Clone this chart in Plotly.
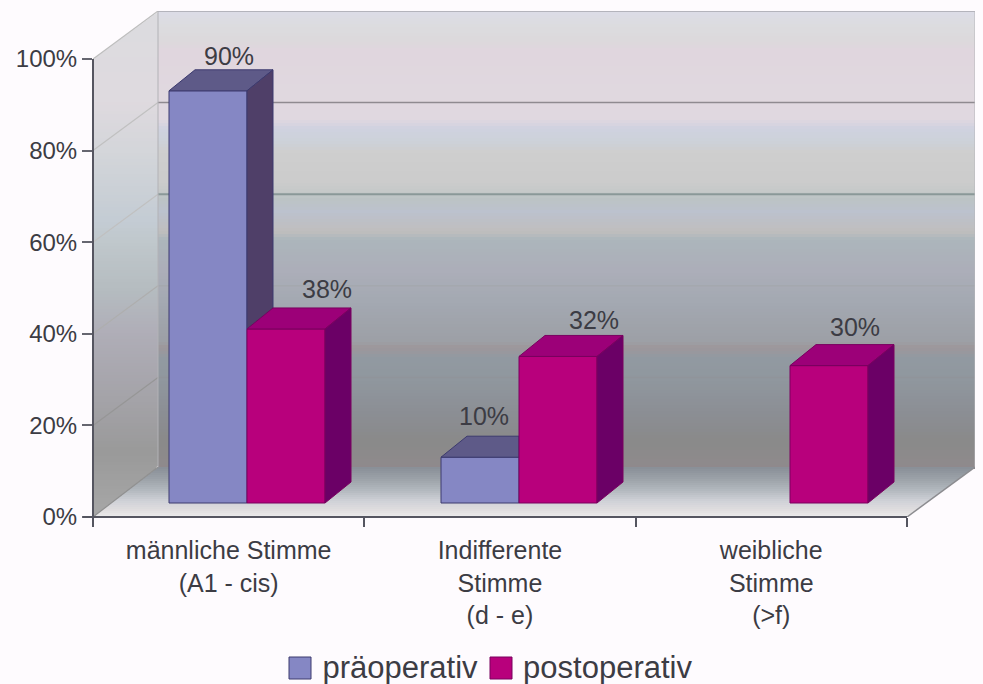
import numpy as np
import plotly.graph_objects as go

categories = ["männliche Stimme<br>(A1 - cis)", "Indifferente<br>Stimme<br>(d - e)", "weibliche<br>Stimme<br>(>f)"]
pre_values = [90, 10, None]
post_values = [38, 32, 30]
y_ticks = [0, 20, 40, 60, 80, 100]
y_labels = ["0%", "20%", "40%", "60%", "80%", "100%"]
pre_name = "präoperativ"
post_name = "postoperativ"

back_stops = [(12, "#dcdce6"), (25, "#dcdcdf"), (40, "#dcd9dc"), (48, "#e0d6de"), (100, "#e0d9e0"), (118, "#e0d8e0"),
              (127, "#d0d2e0"), (140, "#cdd2da"), (150, "#cfcfcf"), (180, "#cccccc"), (190, "#c6c9c9"), (197, "#bcc4c5"),
              (210, "#bcc2ce"), (230, "#c0bebe"), (238, "#acb6bc"), (270, "#acaeb9"), (300, "#a4a9b2"), (340, "#9da0a6"),
              (346, "#9e979b"), (356, "#929aa2"), (380, "#90979e"), (410, "#8c8f95"), (440, "#8a8a8a"), (458, "#8e8b8c"), (467, "#90898d")]
floor_stops = [(467, "#8a9098"), (480, "#a0a6ac"), (490, "#b5bac0"), (500, "#d0d2d8"), (510, "#e2dfe0"), (517, "#eeeeee")]
side_stops = [(12, "#dcdce0"), (100, "#dfdadf"), (150, "#d4d6da"), (220, "#c4ccd4"), (240, "#c0c8cc"), (290, "#b5bcc0"),
              (330, "#b0aeb8"), (400, "#a4a3a8"), (450, "#9a9a9a"), (517, "#a8a8a8")]

PRE = dict(front="#8587c4", top="#5e5a88", side="#4f3f68", line="#3c3a6e")
POST = dict(front="#b8007c", top="#9c0078", side="#6b0066", line="#7a005f")

# axis scale: pixel position of the plot frame
L, R, T, B = 93, 975, 11, 517
CAT = 271.3
PCT = 4.58
x_of = lambda px: (px - L) / CAT
y_of = lambda py: (B - py) / PCT


def hex2rgb(h):
    return [int(h[i:i + 2], 16) for i in (1, 3, 5)]


def grad(stops, py):
    ys = [s[0] for s in stops]
    cols = np.array([hex2rgb(s[1]) for s in stops], float)
    return "rgb(%d,%d,%d)" % tuple(np.interp(py, ys, cols[:, k]) for k in range(3))


def poly(pts, color):
    path = "M" + "L".join(f"{x_of(a):.4f},{y_of(b):.3f}" for a, b in pts) + "Z"
    return dict(type="path", path=path, fillcolor=color, line_width=0, layer="below", xref="x", yref="y")


def seg(p, q, color, w=1.5):
    return dict(type="line", x0=x_of(p[0]), y0=y_of(p[1]), x1=x_of(q[0]), y1=y_of(q[1]),
                line=dict(color=color, width=w), layer="below", xref="x", yref="y")


def axis_seg(p, q, color, w):
    return dict(type="line", x0=(p[0] - L) / (R - L), y0=(B - p[1]) / (B - T), x1=(q[0] - L) / (R - L), y1=(B - q[1]) / (B - T),
                line=dict(color=color, width=w), layer="above", xref="paper", yref="paper")


shapes = []
STEP = 3
# back wall
for py in range(12, 467, STEP):
    shapes.append(poly([(158, py), (975, py), (975, py + STEP + 1), (158, py + STEP + 1)], grad(back_stops, py)))
# floor
for py in range(467, 517, 2):
    f = lambda yy: 158 - (yy - 467) * 65 / 50
    g = lambda yy: 975 - (yy - 467) * 68 / 50
    y2 = min(py + 3, 517)
    shapes.append(poly([(f(py), py), (g(py), py), (g(y2), y2), (f(y2), y2)], grad(floor_stops, py)))
# left wall
for py in range(12, 517, STEP):
    y2 = min(py + STEP + 1, 517)
    lft = lambda yy: 93 if yy >= 59 else 158 - (yy - 12) * 65 / 47
    rgt = lambda yy: 158 if yy <= 467 else 158 - (yy - 467) * 65 / 50
    shapes.append(poly([(lft(py), py), (rgt(py), py), (rgt(y2), y2), (lft(y2), y2)], grad(side_stops, py)))

# gridlines on the walls
grid_colors = {100: "#b4b4bc", 80: "#8f8a90", 60: "#8a9898", 40: "#a4a8ae", 20: "#90949a"}
diag_colors = {100: "#bdbdbd", 80: "#c0c0c0", 60: "#c0c0c0", 40: "#aeaeae", 20: "#969696"}
for v in y_ticks[1:]:
    py = B - v * PCT
    shapes.append(seg((158, py - 48), (975, py - 48), grid_colors[v], 2 if v in (100, 60) else 1.5))
    shapes.append(seg((93, py), (158, py - 48), diag_colors[v], 1.2))
shapes.append(seg((158, 11), (158, 467), "#b2b2b6", 1))
shapes.append(seg((975, 11), (975, 467), "#b6b6ba", 1))
shapes.append(seg((93, 517), (158, 467), "#909090", 1.2))
shapes.append(seg((907, 517), (975, 467), "#8c8c90", 1.5))
shapes.append(axis_seg((93, 59), (93, 526), "#555560", 2))
shapes.append(axis_seg((83, 517), (907, 517), "#555560", 2.2))


def swatch(x0, x1, y0, y1, color, line):
    return dict(type="rect", x0=(x0 - L) / (R - L), x1=(x1 - L) / (R - L), y0=(B - y0) / (B - T), y1=(B - y1) / (B - T),
                fillcolor=color, line=dict(color=line, width=1), layer="above", xref="paper", yref="paper")


shapes.append(swatch(289, 311, 657, 679, PRE["front"], PRE["line"]))
shapes.append(swatch(490, 512, 657, 679, POST["front"], POST["line"]))

# bar geometry in axis units
BAR_W = 78 / CAT
BASE = y_of(503)
DX = 26 / CAT
DY = 21 / PCT
GROUP_X = [x_of(247), x_of(519), x_of(790)]

fig = go.Figure()
fig.add_bar(x=GROUP_X, y=pre_values, base=BASE, name=pre_name, width=BAR_W, offset=-BAR_W,
            marker=dict(color=PRE["front"], line=dict(width=0)), hoverinfo="skip")
fig.add_bar(x=GROUP_X, y=post_values, base=BASE, name=post_name, width=BAR_W, offset=0,
            marker=dict(color=POST["front"], line=dict(width=0)), hoverinfo="skip")


def face(xs, ys, color, line):
    fig.add_scatter(x=xs + xs[:1], y=ys + ys[:1], mode="lines", fill="toself", fillcolor=color,
                    line=dict(color=line, width=1), showlegend=False, hoverinfo="skip")


for cx, pre, post in zip(GROUP_X, pre_values, post_values):
    if pre is not None:
        xl, xr, top = cx - BAR_W, cx, BASE + pre
        pt = BASE + (post or 0)
        face([xl, xr, xr, xl], [BASE, BASE, top, top], PRE["front"], PRE["line"])
        if pt > top:  # next bar hides the side and part of the top
            face([xl, xr, xr, xl + DX], [top, top, top + DY, top + DY], PRE["top"], PRE["line"])
        else:
            face([xl, xr, xr + DX, xl + DX], [top, top, top + DY, top + DY], PRE["top"], PRE["line"])
            face([xr, xr + DX, xr + DX, xr], [top, top + DY, pt + DY, pt], PRE["side"], PRE["line"])
    if post is not None:
        xl, xr, top = cx, cx + BAR_W, BASE + post
        face([xl, xr, xr, xl], [BASE, BASE, top, top], POST["front"], POST["line"])
        face([xl, xr, xr + DX, xl + DX], [top, top, top + DY, top + DY], POST["top"], POST["line"])
        face([xr, xr + DX, xr + DX, xr], [BASE, BASE + DY, top + DY, top], POST["side"], POST["line"])

# value labels
TXT = "#3c3c44"
label_shift = {(0, 0): (21, 35), (0, 1): (41, 40), (1, 0): (4, 41), (1, 1): (36, 36), (2, 1): (26, 39)}
annotations = []
for i, cx in enumerate(GROUP_X):
    for j, vals in enumerate((pre_values, post_values)):
        v = vals[i]
        if v is None:
            continue
        centre = cx - BAR_W / 2 if j == 0 else cx + BAR_W / 2
        sx, sy = label_shift[(i, j)]
        annotations.append(dict(x=centre, y=BASE + v, text=f"{v}%", showarrow=False, xanchor="center", yanchor="middle",
                                xshift=sx, yshift=sy, font=dict(size=25, color=TXT)))

fig.update_layout(
    width=983, height=684, margin=dict(l=L, r=983 - R, t=T, b=684 - B, autoexpand=False),
    paper_bgcolor="#fefbfe", plot_bgcolor="rgba(0,0,0,0)", barmode="overlay",
    font=dict(family="Liberation Sans, Arial, sans-serif", size=24, color=TXT),
    shapes=shapes, annotations=annotations,
    xaxis=dict(range=[0, x_of(R)], tickmode="array", tickvals=[0.5, 1.5, 2.5], ticktext=categories,
               ticks="outside", ticklen=11, tickcolor="rgba(0,0,0,0)", showgrid=False, zeroline=False, showline=False,
               automargin=False,
               minor=dict(tickmode="array", tickvals=[0, 1, 2, 3], ticks="outside", ticklen=9, tickwidth=1.5, tickcolor="#555560", showgrid=False),
               tickfont=dict(size=25, color=TXT)),
    yaxis=dict(range=[0, y_of(T)], tickmode="array", tickvals=y_ticks, ticktext=y_labels,
               ticks="outside", ticklen=10, tickwidth=1.5, tickcolor="#666670", showgrid=False, zeroline=False, showline=False,
               automargin=False, tickfont=dict(size=24, color=TXT)),
    legend=dict(orientation="h", x=(490 - L) / (R - L), y=(B - 666) / (B - T), xanchor="center", yanchor="middle",
                font=dict(size=31, color=TXT), bgcolor="rgba(0,0,0,0)", itemwidth=30, traceorder="normal"),
)

fig.write_html("out.html", post_script="document.body.style.margin='0';", config=dict(displayModeBar=False))
